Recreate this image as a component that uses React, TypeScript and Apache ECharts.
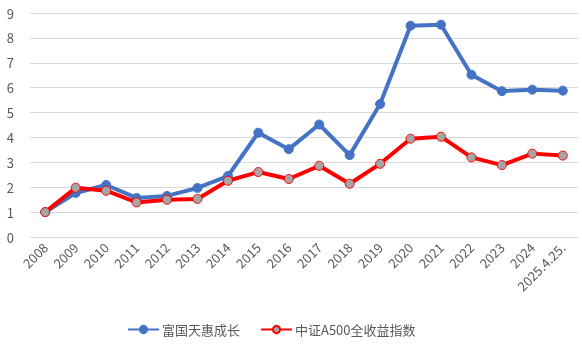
import React, { useEffect, useRef } from "react";
import * as echarts from "echarts";

const categories = ["2008","2009","2010","2011","2012","2013","2014","2015","2016","2017","2018","2019","2020","2021","2022","2023","2024","2025.4.25."];
const fundName = "富国天惠成长";
const indexName = "中证A500全收益指数";
const fundValues = [1.0,1.77,2.09,1.57,1.65,1.97,2.45,4.19,3.53,4.52,3.29,5.34,8.49,8.53,6.52,5.86,5.92,5.88];
const indexValues = [1.0,1.98,1.86,1.39,1.50,1.53,2.26,2.61,2.33,2.86,2.14,2.94,3.95,4.03,3.20,2.89,3.35,3.27];

export default function App() {
  const ref = useRef<HTMLDivElement>(null);
  useEffect(() => {
    const chart = echarts.init(ref.current!, null, { renderer: "svg" });
    const font = "'Noto Sans CJK SC', 'Microsoft YaHei', sans-serif";
    chart.setOption({
      animation: false,
      textStyle: { fontFamily: font },
      grid: { left: 30, right: 4, top: 13, bottom: 116, containLabel: false },
      legend: {
        top: 318,
        left: 122,
        itemWidth: 31,
        itemHeight: 9,
        itemGap: 20,
        textStyle: { fontSize: 13, color: "#595959", fontFamily: font, padding: [0, 0, 0, -2] },
        data: [fundName, indexName],
      },
      xAxis: {
        type: "category",
        data: categories,
        boundaryGap: true,
        axisLine: { show: false },
        axisTick: { show: false },
        axisLabel: { rotate: 45, color: "#595959", fontSize: 13, margin: 8, interval: 0, fontFamily: font },
      },
      yAxis: {
        type: "value",
        min: 0,
        max: 9,
        interval: 1,
        axisLine: { show: false },
        axisTick: { show: false },
        axisLabel: { color: "#595959", fontSize: 13, margin: 16, fontFamily: font },
        splitLine: { lineStyle: { color: "#D9D9D9", width: 1 } },
      },
      series: [
        {
          name: fundName,
          type: "line",
          data: fundValues,
          symbol: "circle",
          symbolSize: 9,
          lineStyle: { color: "#4472C4", width: 4 },
          itemStyle: { color: "#4472C4", borderColor: "#4472C4", borderWidth: 1 },
          z: 2,
        },
        {
          name: indexName,
          type: "line",
          data: indexValues,
          symbol: "circle",
          symbolSize: 9,
          lineStyle: { color: "#FF0000", width: 4 },
          itemStyle: { color: "#A5A5A5", borderColor: "#FF0000", borderWidth: 1 },
          z: 3,
        },
      ],
    });
    return () => chart.dispose();
  }, []);
  return <div ref={ref} style={{ position: "fixed", left: 0, top: 0, width: 582, height: 353 }} />;
}
